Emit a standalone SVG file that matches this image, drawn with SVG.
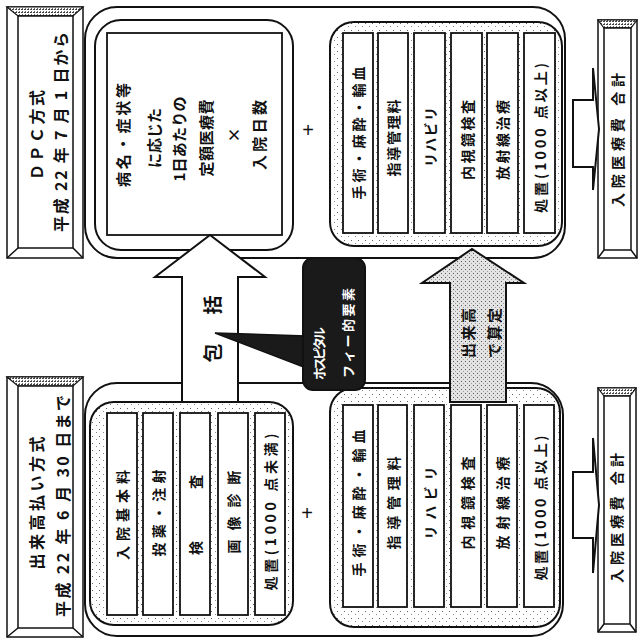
<svg xmlns="http://www.w3.org/2000/svg" width="640" height="639" viewBox="0 0 640 639">
<defs>
<pattern id="dots" width="7" height="7" patternUnits="userSpaceOnUse"><rect width="7" height="7" fill="#fff"/><rect x="1" y="2" width="1" height="1" fill="#666"/><rect x="5" y="5" width="1" height="1" fill="#888"/></pattern>
<pattern id="adots" width="4" height="4" patternUnits="userSpaceOnUse"><rect width="4" height="4" fill="#e4e4e4"/><rect x="1" y="1" width="1" height="1" fill="#555"/><rect x="3" y="3" width="1" height="1" fill="#999"/></pattern>
<pattern id="hatch" width="3" height="3" patternUnits="userSpaceOnUse"><rect width="3" height="3" fill="#fff"/><rect x="0" y="0" width="2" height="1" fill="#444"/><rect x="1" y="2" width="1" height="1" fill="#666"/></pattern>
</defs>
<style>
.ln{fill:none;stroke:#111;stroke-width:2}
.wb{fill:#fff;stroke:#111;stroke-width:2}
.db{fill:url(#dots);stroke:#111;stroke-width:2}
.col{fill:#fff;stroke:#111;stroke-width:1.8}
.bev{fill:#fff;stroke:#111;stroke-width:1.5}
.t{font-family:"Noto Sans CJK JP","Noto Sans",sans-serif;font-weight:bold;font-size:14px;text-anchor:middle;dominant-baseline:central;fill:#111}
.h{font-size:16px}
.m{font-size:15px}
.w{fill:#fff;font-size:13px;text-anchor:start}
.plus{font-family:"Liberation Sans",sans-serif;font-size:20px;text-anchor:middle;dominant-baseline:central;fill:#111}
</style>

<!-- containers -->
<g id="dpc-container"><rect class="ln" x="85" y="7" width="480" height="251" rx="32"/></g>
<g id="dekidaka-container"><rect class="ln" x="85" y="383" width="478" height="253" rx="32"/></g>

<!-- header: DPC -->
<g id="hdr-dpc">
<rect class="bev" x="7" y="7" width="76" height="251"/>
<polygon points="7,7 83,7 73,16 18,16" fill="url(#hatch)" stroke="#111" stroke-width="1.2"/>
<rect class="bev" x="18" y="16" width="55" height="232"/>
<path class="bev" d="M83,258 L73,248 M7,258 L18,248"/>
<text class="t h" transform="translate(36,135) rotate(-90)" textLength="90" lengthAdjust="spacing">ＤＰＣ方式</text>
<text class="t h" transform="translate(60,132) rotate(-90)" textLength="200" lengthAdjust="spacing">平成 22 年 7 月 1 日から</text>
</g>

<!-- header: dekidaka -->
<g id="hdr-dekidaka">
<rect class="bev" x="7" y="377" width="76" height="260"/>
<polygon points="7,377 83,377 73,386 18,386" fill="url(#hatch)" stroke="#111" stroke-width="1.2"/>
<rect class="bev" x="18" y="386" width="55" height="242"/>
<path class="bev" d="M83,637 L73,628 M7,637 L18,628"/>
<text class="t h" transform="translate(36,503) rotate(-90)" textLength="133" lengthAdjust="spacing">出来高払い方式</text>
<text class="t h" transform="translate(62,506) rotate(-90)" textLength="222" lengthAdjust="spacing">平成 22 年 6 月 30 日まで</text>
</g>

<!-- DPC fixed box -->
<g id="dpc-fixed">
<rect class="wb" x="95" y="20" width="198" height="230" rx="26"/>
<rect class="col" x="107" y="33" width="175" height="202"/>
<text class="t m" transform="translate(122,135) rotate(-90)" textLength="104" lengthAdjust="spacing">病名・症状等</text>
<text class="t m" transform="translate(153,138) rotate(-90)" textLength="60" lengthAdjust="spacing">に応じた</text>
<text class="t m" transform="translate(178,139) rotate(-90)" textLength="85" lengthAdjust="spacing">1日あたりの</text>
<text class="t m" transform="translate(205,138) rotate(-90)" textLength="77" lengthAdjust="spacing">定額医療費</text>
<text class="t m" transform="translate(233,135) rotate(-90)">×</text>
<text class="t m" transform="translate(258,135) rotate(-90)" textLength="70" lengthAdjust="spacing">入院日数</text>
</g>
<g id="plus-top"><text class="plus" x="308" y="130">+</text></g>

<!-- DPC fee-for-service box -->
<g id="dpc-ffs">
<rect class="db" x="330" y="22" width="232" height="224" rx="24"/>
<rect class="col" x="343" y="33" width="30" height="200"/>
<rect class="col" x="378" y="33" width="30" height="200"/>
<rect class="col" x="414" y="33" width="31" height="200"/>
<rect class="col" x="451" y="33" width="31" height="200"/>
<rect class="col" x="487" y="33" width="31" height="200"/>
<rect class="col" x="524" y="33" width="31" height="200"/>
<text class="t" transform="translate(358,133) rotate(-90)" textLength="133" lengthAdjust="spacing">手術・麻酔・輸血</text>
<text class="t" transform="translate(393,138) rotate(-90)" textLength="77" lengthAdjust="spacing">指導管理料</text>
<text class="t" transform="translate(430,137) rotate(-90)" textLength="60" lengthAdjust="spacing">リハビリ</text>
<text class="t" transform="translate(467,140) rotate(-90)" textLength="80" lengthAdjust="spacing">内視鏡検査</text>
<text class="t" transform="translate(502,140) rotate(-90)" textLength="80" lengthAdjust="spacing">放射線治療</text>
<text class="t" transform="translate(540,138) rotate(-90)" textLength="150" lengthAdjust="spacing">処置(1000 点以上)</text>
</g>

<!-- dekidaka left box -->
<g id="deki-left">
<rect class="db" x="90" y="402" width="203" height="223" rx="24"/>
<rect class="col" x="107" y="413" width="30" height="202"/>
<rect class="col" x="143" y="413" width="30" height="202"/>
<rect class="col" x="180" y="413" width="30" height="202"/>
<rect class="col" x="218" y="413" width="30" height="202"/>
<rect class="col" x="255" y="413" width="30" height="202"/>
<text class="t" transform="translate(122,515) rotate(-90)" textLength="90" lengthAdjust="spacing">入院基本料</text>
<text class="t" transform="translate(158,513) rotate(-90)" textLength="87" lengthAdjust="spacing">投薬・注射</text>
<text class="t" transform="translate(195,515) rotate(-90)" textLength="80" lengthAdjust="spacing">検　査</text>
<text class="t" transform="translate(233,512) rotate(-90)" textLength="83" lengthAdjust="spacing">画像診断</text>
<text class="t" transform="translate(270,512) rotate(-90)" textLength="157" lengthAdjust="spacing">処置(1000 点未満)</text>
</g>
<g id="plus-bottom"><text class="plus" x="307" y="513">+</text></g>

<!-- dekidaka right box -->
<g id="deki-right">
<rect class="db" x="330" y="388" width="230" height="239" rx="24"/>
<rect class="col" x="343" y="405" width="30" height="202"/>
<rect class="col" x="378" y="405" width="29" height="202"/>
<rect class="col" x="414" y="405" width="30" height="202"/>
<rect class="col" x="451" y="405" width="30" height="202"/>
<rect class="col" x="487" y="405" width="30" height="202"/>
<rect class="col" x="524" y="405" width="30" height="202"/>
<text class="t" transform="translate(358,503) rotate(-90)" textLength="147" lengthAdjust="spacing">手術・麻酔・輸血</text>
<text class="t" transform="translate(393,503) rotate(-90)" textLength="93" lengthAdjust="spacing">指導管理料</text>
<text class="t" transform="translate(430,503) rotate(-90)" textLength="73" lengthAdjust="spacing">リハビリ</text>
<text class="t" transform="translate(467,503) rotate(-90)" textLength="93" lengthAdjust="spacing">内視鏡検査</text>
<text class="t" transform="translate(502,503) rotate(-90)" textLength="93" lengthAdjust="spacing">放射線治療</text>
<text class="t" transform="translate(540,508) rotate(-90)" textLength="145" lengthAdjust="spacing">処置(1000 点以上)</text>
</g>

<!-- totals -->
<g id="total-top">
<rect class="bev" x="598" y="20" width="39" height="238"/>
<polygon points="598,20 637,20 631,28 604,28" fill="url(#hatch)" stroke="#111" stroke-width="1.2"/>
<rect class="bev" x="604" y="28" width="27" height="222"/>
<path class="bev" d="M598,258 L604,250 M637,258 L631,250"/>
<text class="t" transform="translate(617,140) rotate(-90)" textLength="134" lengthAdjust="spacing">入院医療費 合計</text>
</g>
<g id="total-bottom">
<rect class="bev" x="598" y="388" width="38" height="244"/>
<polygon points="598,388 636,388 630,396 604,396" fill="url(#hatch)" stroke="#111" stroke-width="1.2"/>
<rect class="bev" x="604" y="396" width="26" height="228"/>
<path class="bev" d="M598,632 L604,624 M636,632 L630,624"/>
<text class="t" transform="translate(616,518) rotate(-90)" textLength="130" lengthAdjust="spacing">入院医療費 合計</text>
</g>

<!-- connectors -->
<g id="connectors">
<polygon class="wb" points="182,402 182,277 155,277 210,235 265,277 238,277 238,402"/>
<text class="t" transform="translate(211,305) rotate(-90)" style="font-size:19px">括</text>
<text class="t" transform="translate(211,353) rotate(-90)" style="font-size:19px">包</text>
<polygon points="450,402 450,283 422,283 472,249 524,283 506,283 506,402" fill="url(#adots)" stroke="#111" stroke-width="2"/>
<text class="t m" transform="translate(467,333) rotate(-90)" textLength="50" lengthAdjust="spacing">出来高</text>
<text class="t m" transform="translate(493,333) rotate(-90)" textLength="50" lengthAdjust="spacing">で算定</text>
<polygon class="wb" points="573,100 593,100 593,68 599,129 593,190 593,167 573,167"/>
<polygon class="wb" points="573,472 593,472 593,438 599,505 593,573 593,538 573,538"/>
</g>

<!-- callout -->
<g id="callout">
<polygon points="215,333 306,336 306,368" fill="#1a1a1a" stroke="#111" stroke-width="1.5"/>
<rect x="303" y="258" width="62" height="132" rx="10" fill="#1a1a1a" stroke="#111" stroke-width="2"/>
<text class="t w" transform="translate(318,380) rotate(-90)" textLength="53" lengthAdjust="spacing">ホスピタル</text>
<text class="t w" transform="translate(347,378) rotate(-90)" textLength="90" lengthAdjust="spacing">フィー的要素</text>
</g>
</svg>
